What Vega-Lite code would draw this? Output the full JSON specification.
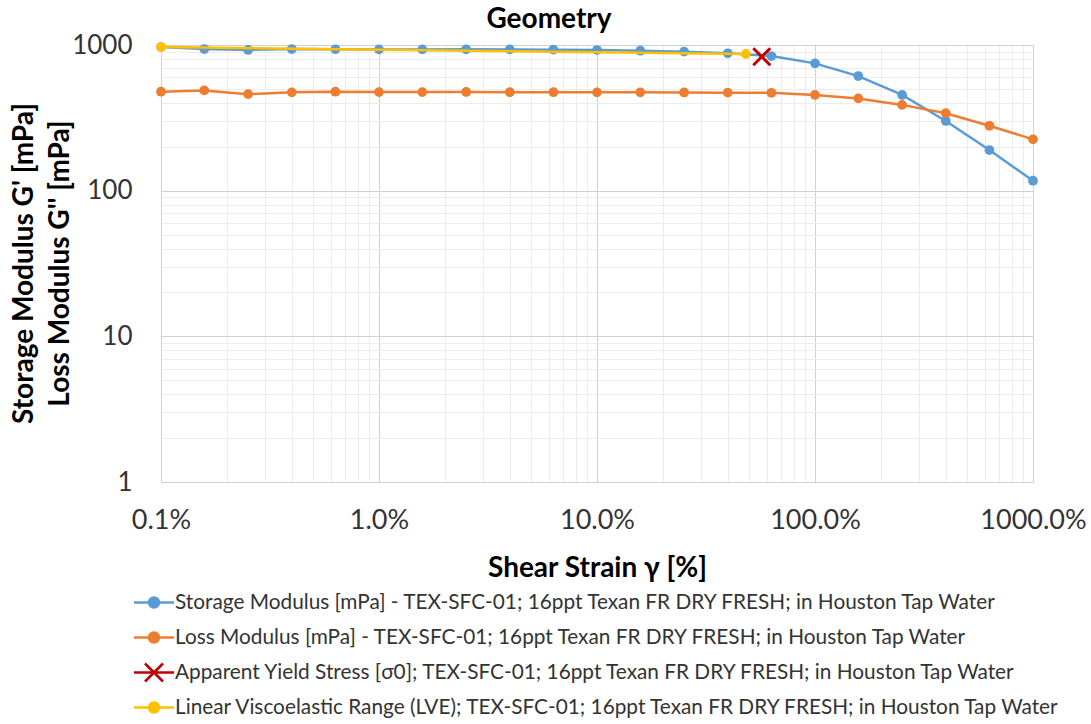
{
  "$schema": "https://vega.github.io/schema/vega-lite/v6.json",
  "width": 872,
  "height": 437,
  "autosize": {"type": "none"},
  "padding": {"left": 161, "top": 45, "right": 58, "bottom": 242},
  "background": "white",
  "config": {"view": {"stroke": null}, "font": "Lato"},
  "title": {"text": "Geometry", "font": "Lato", "fontSize": 28, "fontWeight": "bold", "color": "#000000", "anchor": "middle", "dx": -48, "offset": -2},
  "data": {"values": [
    {"series": "storage", "strain": 0.1, "modulus": 968},
    {"series": "storage", "strain": 0.158, "modulus": 938},
    {"series": "storage", "strain": 0.251, "modulus": 925},
    {"series": "storage", "strain": 0.398, "modulus": 938},
    {"series": "storage", "strain": 0.631, "modulus": 935},
    {"series": "storage", "strain": 1.0, "modulus": 933},
    {"series": "storage", "strain": 1.58, "modulus": 933},
    {"series": "storage", "strain": 2.51, "modulus": 935},
    {"series": "storage", "strain": 3.98, "modulus": 933},
    {"series": "storage", "strain": 6.31, "modulus": 929},
    {"series": "storage", "strain": 10.0, "modulus": 924},
    {"series": "storage", "strain": 15.8, "modulus": 914},
    {"series": "storage", "strain": 25.1, "modulus": 900},
    {"series": "storage", "strain": 39.8, "modulus": 877},
    {"series": "storage", "strain": 63.1, "modulus": 840},
    {"series": "storage", "strain": 100, "modulus": 748},
    {"series": "storage", "strain": 158, "modulus": 612},
    {"series": "storage", "strain": 251, "modulus": 454},
    {"series": "storage", "strain": 398, "modulus": 301},
    {"series": "storage", "strain": 631, "modulus": 190},
    {"series": "storage", "strain": 1000, "modulus": 117},
    {"series": "loss", "strain": 0.1, "modulus": 478},
    {"series": "loss", "strain": 0.158, "modulus": 488},
    {"series": "loss", "strain": 0.251, "modulus": 460},
    {"series": "loss", "strain": 0.398, "modulus": 473},
    {"series": "loss", "strain": 0.631, "modulus": 478},
    {"series": "loss", "strain": 1.0, "modulus": 475},
    {"series": "loss", "strain": 1.58, "modulus": 475},
    {"series": "loss", "strain": 2.51, "modulus": 476},
    {"series": "loss", "strain": 3.98, "modulus": 474},
    {"series": "loss", "strain": 6.31, "modulus": 474},
    {"series": "loss", "strain": 10.0, "modulus": 473},
    {"series": "loss", "strain": 15.8, "modulus": 473},
    {"series": "loss", "strain": 25.1, "modulus": 472},
    {"series": "loss", "strain": 39.8, "modulus": 471},
    {"series": "loss", "strain": 63.1, "modulus": 470},
    {"series": "loss", "strain": 100, "modulus": 454},
    {"series": "loss", "strain": 158, "modulus": 430},
    {"series": "loss", "strain": 251, "modulus": 388},
    {"series": "loss", "strain": 398, "modulus": 340},
    {"series": "loss", "strain": 631, "modulus": 279},
    {"series": "loss", "strain": 1000, "modulus": 225},
    {"series": "yield", "strain": 57, "modulus": 831},
    {"series": "lve", "strain": 0.1, "modulus": 968},
    {"series": "lve", "strain": 48.2, "modulus": 868}
  ]},
  "encoding": {
    "x": {
      "field": "strain", "type": "quantitative",
      "scale": {"type": "log", "domain": [0.1, 1000], "nice": false},
      "axis": {
        "values": [0.1,0.2,0.3,0.4,0.5,0.6,0.7,0.8,0.9,1,2,3,4,5,6,7,8,9,10,20,30,40,50,60,70,80,90,100,200,300,400,500,600,700,800,900,1000],
        "labelExpr": "datum.value == 0.1 ? '0.1%' : (indexof([1,10,100,1000], datum.value) >= 0 ? format(datum.value, '.1f') + '%' : '')",
        "grid": true,
        "gridColor": {"condition": {"test": "indexof([0.1,1,10,100,1000], datum.value) >= 0", "value": "#d0d0d0"}, "value": "#ececec"},
        "gridWidth": 1,
        "ticks": false,
        "domain": false,
        "labelOverlap": false,
        "labelFlush": false,
        "labelFont": "Lato",
        "labelFontSize": 27,
        "labelColor": "#333333",
        "labelPadding": 25,
        "labelBaseline": "top",
        "title": "Shear Strain γ [%]",
        "titleFont": "Lato",
        "titleFontSize": 28,
        "titleFontWeight": "bold",
        "titleColor": "#000000",
        "titleY": 86,
        "titleBaseline": "middle"
      }
    },
    "y": {
      "field": "modulus", "type": "quantitative",
      "scale": {"type": "log", "domain": [1, 1000], "nice": false},
      "axis": {
        "values": [1,2,3,4,5,6,7,8,9,10,20,30,40,50,60,70,80,90,100,200,300,400,500,600,700,800,900,1000],
        "labelExpr": "indexof([1,10,100,1000], datum.value) >= 0 ? format(datum.value, 'd') : ''",
        "grid": true,
        "gridColor": {"condition": {"test": "indexof([1,10,100,1000], datum.value) >= 0", "value": "#d0d0d0"}, "value": "#ececec"},
        "gridWidth": 1,
        "ticks": false,
        "domain": false,
        "labelOverlap": false,
        "labelFlush": false,
        "labelFont": "Lato",
        "labelFontSize": 26,
        "labelColor": "#333333",
        "labelPadding": 29,
        "title": ["Storage Modulus G' [mPa]", "Loss Modulus G'' [mPa]"],
        "titleFont": "Lato",
        "titleFontSize": 28,
        "titleFontWeight": "bold",
        "titleColor": "#000000",
        "titleAngle": -90,
        "titleAlign": "center",
        "titleBaseline": "middle",
        "titleLineHeight": 36,
        "titleX": -137,
        "titleY": 218
      }
    }
  },
  "layer": [
    {
      "transform": [{"filter": "datum.series == 'storage' || datum.series == 'loss'"}],
      "mark": {"type": "line", "strokeWidth": 2.5, "point": {"filled": true, "size": 95, "opacity": 1}},
      "encoding": {
        "color": {
          "field": "series", "type": "nominal",
          "scale": {"domain": ["storage", "loss", "yield", "lve"], "range": ["#5B9BD5", "#ED7D31", "#C00000", "#FFC000"]},
          "legend": {
            "orient": "none",
            "legendX": -18.5,
            "legendY": 546,
            "direction": "vertical",
            "title": null,
            "padding": 0,
            "gridAlign": "all",
            "symbolSize": 400,
            "symbolStrokeWidth": 2.5,
            "labelFont": "Lato",
            "labelFontSize": 20.8,
            "labelColor": "#333333",
            "labelOffset": 9.5,
            "labelLimit": 1200,
            "rowPadding": 6,
            "labelExpr": "datum.value == 'storage' ? 'Storage Modulus [mPa] - TEX-SFC-01; 16ppt Texan FR DRY FRESH; in Houston Tap Water' : datum.value == 'loss' ? 'Loss Modulus [mPa] - TEX-SFC-01; 16ppt Texan FR DRY FRESH; in Houston Tap Water' : datum.value == 'yield' ? 'Apparent Yield Stress [σ0]; TEX-SFC-01; 16ppt Texan FR DRY FRESH; in Houston Tap Water' : 'Linear Viscoelastic Range (LVE); TEX-SFC-01; 16ppt Texan FR DRY FRESH; in Houston Tap Water'",
            "encode": {
              "symbols": {
                "update": {
                  "shape": {"signal": "datum.value == 'yield' ? 'M-2,0H2M-0.9,-0.9L0.9,0.9M-0.9,0.9L0.9,-0.9' : 'M-2,0H2M0.5,0A0.5,0.5,0,1,1,-0.5,0A0.5,0.5,0,1,1,0.5,0Z'"},
                  "stroke": {"scale": "color", "field": "value"},
                  "fill": {"scale": "color", "field": "value"},
                  "strokeWidth": {"value": 2.5},
                  "opacity": {"value": 1}
                }
              }
            }
          }
        }
      }
    },
    {
      "transform": [{"filter": "datum.series == 'yield'"}],
      "mark": {"type": "point", "shape": "M-1,-1L1,1M-1,1L1,-1", "size": 289, "filled": false, "strokeWidth": 3, "color": "#C00000", "opacity": 1}
    },
    {
      "transform": [{"filter": "datum.series == 'lve'"}],
      "mark": {"type": "line", "strokeWidth": 2.5, "point": {"filled": true, "size": 95, "opacity": 1}},
      "encoding": {
        "color": {"field": "series", "type": "nominal", "legend": null}
      }
    }
  ]
}
